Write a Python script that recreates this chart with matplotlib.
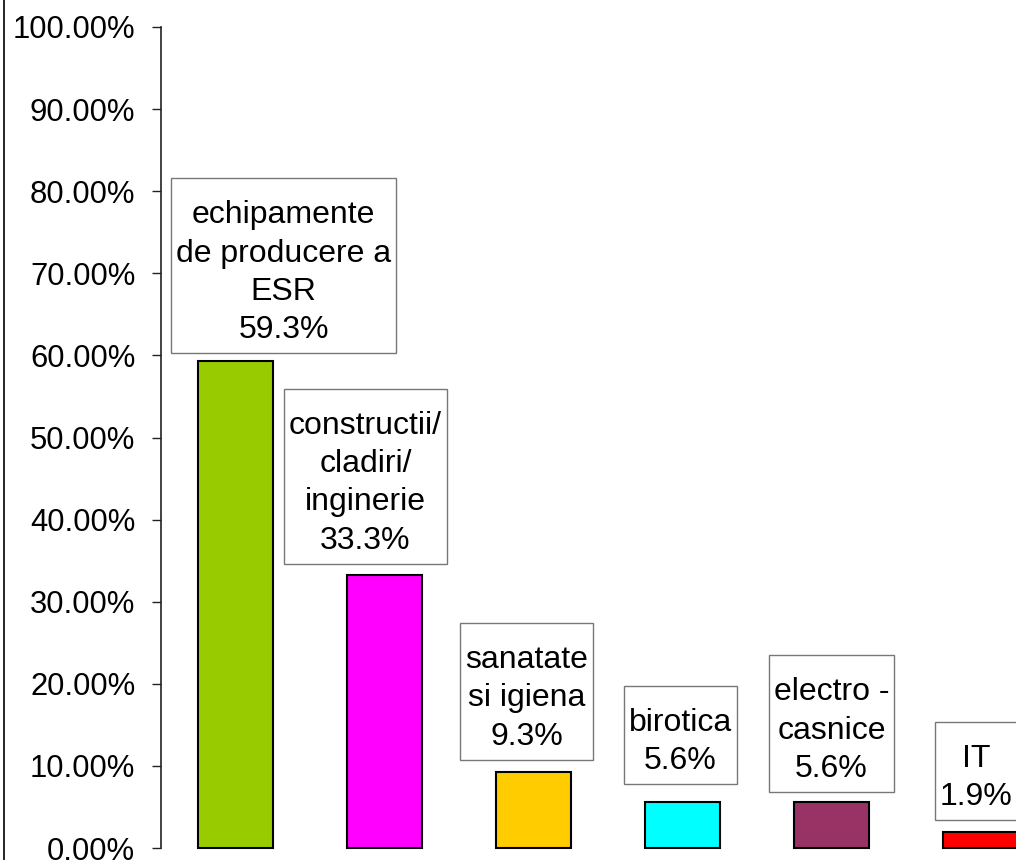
import matplotlib
matplotlib.use("Agg")
import matplotlib.pyplot as plt
from matplotlib.lines import Line2D
from matplotlib.patches import Rectangle
from matplotlib.transforms import IdentityTransform

# Values

categories = ["echipamente\nde producere a\nESR", "constructii/\ncladiri/\ninginerie",
              "sanatate\nsi igiena", "birotica", "electro -\ncasnice", "IT"]
shares = [59.3, 33.3, 9.3, 5.6, 5.6, 1.9]
colors = ["#99CC00", "#FF00FF", "#FFCC00", "#00FFFF", "#993366", "#FF0000"]

# Label box offsets from bar top (pixels): (dx, gap)
label_offsets = [(48, 8), (-19, 11), (-7, 12), (-2, 18), (0, 10), (-4, 12)]

plt.rcParams["font.family"] = ["Liberation Sans", "DejaVu Sans"]

fig = plt.figure(figsize=(10.16, 8.6), dpi=100)
ax = fig.add_axes([161 / 1016, 12 / 860, 894 / 1016, 821 / 860])

x = list(range(len(shares)))
ax.bar(x, [s / 100 for s in shares], width=0.51, color=colors,
       edgecolor="black", linewidth=1.5, clip_on=False)

ax.set_xlim(-0.5, 5.5)
ax.set_ylim(0, 1.0)
ax.set_yticks([i / 10 for i in range(11)])
ax.set_yticklabels(["%.2f%%" % (i * 10) for i in range(11)], fontsize=22.3)
ax.tick_params(axis="y", direction="out", length=6.5, width=1, pad=12, colors="#222222")
ax.tick_params(axis="y", labelcolor="black")
ax.set_xticks([])

for side in ["top", "right", "bottom"]:
    ax.spines[side].set_visible(False)
ax.spines["left"].set_linewidth(1.2)
ax.spines["left"].set_color("#222222")

# label boxes: padding in pixels (left/right, top, bottom)
pad_x, pad_top, pad_bot = 5, 22, 8
labels = []
for i, (cat, val) in enumerate(zip(categories, shares)):
    dx, gap = label_offsets[i]
    t = ax.annotate("%s\n%.1f%%" % (cat, val), xy=(i, val / 100),
                    xytext=(dx, gap + pad_bot), textcoords="offset pixels",
                    ha="center", va="bottom", fontsize=23, multialignment="center",
                    linespacing=1.36, zorder=4, annotation_clip=False)
    labels.append(t)

fig.canvas.draw()
renderer = fig.canvas.get_renderer()
for t in labels:
    bb = t.get_window_extent(renderer)
    ax.add_patch(Rectangle((bb.x0 - pad_x, bb.y0 - pad_bot),
                           bb.width + 2 * pad_x, bb.height + pad_top + pad_bot,
                           transform=IdentityTransform(), fc="white",
                           ec="#777777", lw=1.0, zorder=3, clip_on=False))

# outer chart frame at the left edge
fig.add_artist(Line2D([4 / 1016, 4 / 1016], [0, 1], color="black", lw=1.2))

fig.savefig("out.png", dpi=100)
